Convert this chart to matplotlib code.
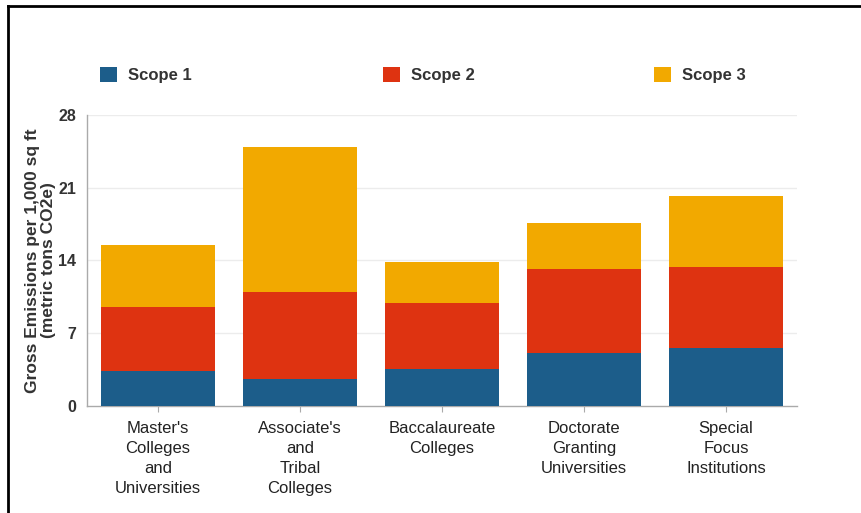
import numpy as np
import matplotlib.pyplot as plt
from matplotlib.lines import Line2D

plt.rcParams['font.family'] = ['Liberation Sans', 'DejaVu Sans']

categories = ["Master's\nColleges\nand\nUniversities",
              "Associate's\nand\nTribal\nColleges",
              "Baccalaureate\nColleges",
              "Doctorate\nGranting\nUniversities",
              "Special\nFocus\nInstitutions"]
scope1 = [3.4, 2.6, 3.6, 5.1, 5.6]
scope2 = [6.1, 8.4, 6.3, 8.1, 7.8]
scope3 = [6.0, 13.9, 3.9, 4.4, 6.8]
series_names = ["Scope 1", "Scope 2", "Scope 3"]
colors = ["#1c5d8a", "#de3311", "#f2a900"]
yticks = [0, 7, 14, 21, 28]

fig = plt.figure(figsize=(8.62, 5.13), dpi=100)
ax = fig.add_axes([87/862, 1 - 406/513, (797 - 87)/862, (406 - 114.7)/513])

x = np.arange(len(categories))
bottom = np.zeros(len(categories))
bars = []
for vals, c, name in zip([scope1, scope2, scope3], colors, series_names):
    b = ax.bar(x, vals, width=0.8, bottom=bottom, color=c, label=name, zorder=3)
    bars.append(b)
    bottom += np.array(vals)

ax.set_xlim(-0.5, 4.5)
ax.set_ylim(0, 28)
ax.set_yticks(yticks)
ax.set_yticklabels([str(t) for t in yticks], fontsize=11.5, fontweight='bold', color='#333333')
ax.set_xticks(x)
ax.set_xticklabels(categories, fontsize=12, color='#222222', linespacing=1.4)
ax.tick_params(axis='y', length=0, pad=8)
ax.tick_params(axis='x', length=4, color='#aaaaaa', pad=7)
for t in yticks[1:]:
    ax.axhline(t, color='#ececec', lw=1, zorder=0)

for side in ['top', 'right']:
    ax.spines[side].set_visible(False)
for side in ['left', 'bottom']:
    ax.spines[side].set_color('#aaaaaa')
    ax.spines[side].set_linewidth(1)

ax.set_ylabel("Gross Emissions per 1,000 sq ft\n(metric tons CO2e)",
              fontsize=12.5, fontweight='bold', color='#333333', labelpad=1,
              linespacing=1.15)

# legend entries spread across the top
legend_x = [100/862, 383/862, 654/862]
for b, name, lx in zip(bars, series_names, legend_x):
    fig.legend([b], [name], loc='center left', bbox_to_anchor=(lx, 1 - 75/513),
               frameon=False, handlelength=1.0, handleheight=1.0, handletextpad=0.7,
               prop={'size': 12, 'weight': 'bold'}, labelcolor='#333333',
               borderpad=0, borderaxespad=0)

# frame lines along the top and left edges
fig.add_artist(Line2D([8/862, 1], [1 - 6/513, 1 - 6/513], color='black', lw=2,
                      transform=fig.transFigure))
fig.add_artist(Line2D([8/862, 8/862], [0, 1 - 6/513], color='black', lw=2,
                      transform=fig.transFigure))

fig.savefig("out.png", dpi=100)
